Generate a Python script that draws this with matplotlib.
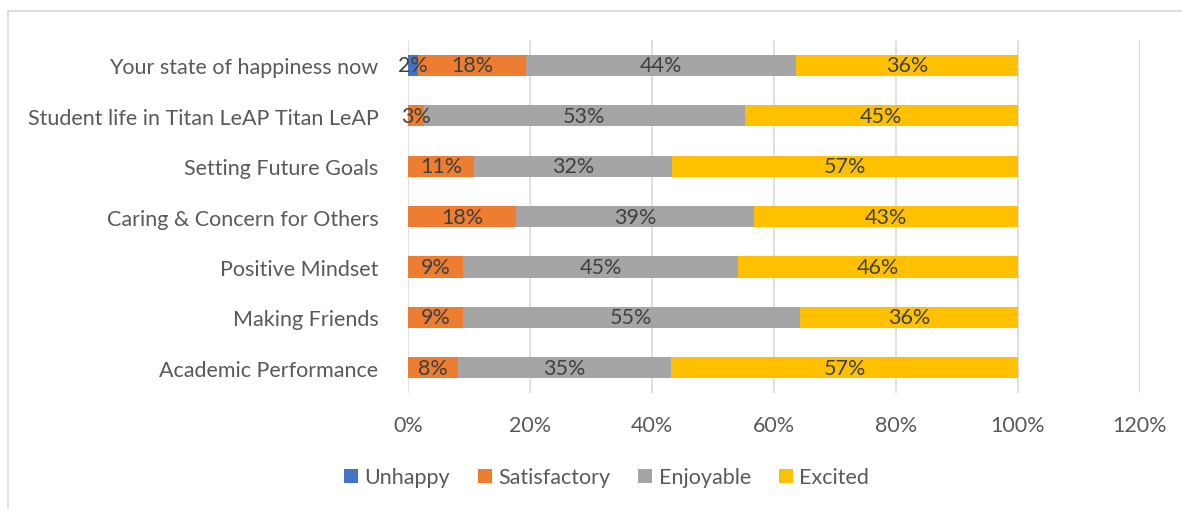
import matplotlib
matplotlib.use("Agg")
import matplotlib.pyplot as plt
from matplotlib.patches import Rectangle

plt.rcParams['font.family'] = ['Lato', 'DejaVu Sans']

categories = ["Academic Performance", "Making Friends", "Positive Mindset",
              "Caring & Concern for Others", "Setting Future Goals",
              "Student life in Titan LeAP Titan LeAP", "Your state of happiness now"]
unhappy = [0, 0, 0, 0, 0, 0, 1.6]
satisfactory = [8.2, 9.1, 9.1, 17.8, 10.9, 2.6, 17.8]
enjoyable = [35.0, 55.1, 45.0, 39.0, 32.4, 52.6, 44.2]
excited = [56.8, 35.8, 45.9, 43.2, 56.7, 44.8, 36.4]

series = [("Unhappy", unhappy, "#4472C4"),
          ("Satisfactory", satisfactory, "#ED7D31"),
          ("Enjoyable", enjoyable, "#A5A5A5"),
          ("Excited", excited, "#FFC000")]

text_col = "#595959"
fs = 15.5

fig = plt.figure(figsize=(11.82, 5.10), dpi=100)
ax = fig.add_axes([0.345, 0.2275, 0.6195, 0.692])

y = range(len(categories))
left = [0] * len(categories)
for name, vals, col in series:
    ax.barh(y, vals, left=left, height=0.42, color=col, label=name, zorder=3)
    for i, v in enumerate(vals):
        if v > 0:
            ax.text(left[i] + v / 2, i, f"{round(v)}%", ha="center", va="center",
                    fontsize=fs, color="#404040", zorder=4)
    left = [l + v for l, v in zip(left, vals)]

ax.set_xlim(0, 120)
ax.set_ylim(-0.5, len(categories) - 0.5)
ax.set_xticks(range(0, 121, 20))
ax.set_xticklabels([f"{t}%" for t in range(0, 121, 20)])
ax.set_yticks(list(y))
ax.set_yticklabels(categories)
ax.tick_params(length=0, labelsize=fs, colors=text_col)
ax.tick_params(axis="x", pad=16)
ax.tick_params(axis="y", pad=21)
ax.grid(axis="x", color="#D9D9D9", linewidth=1.2, zorder=0)
for s in ax.spines.values():
    s.set_visible(False)

fig.legend(loc="center", bbox_to_anchor=(0.513, 0.062),
           ncol=4, frameon=False, fontsize=fs,
           handlelength=0.65, handleheight=0.65, handletextpad=0.3, columnspacing=1.3,
           labelcolor=text_col)

# chart border (partly cut off in the reference)
fig.patches.append(Rectangle((8 / 1182, -0.1), 1.2, 1 - 12 / 510 + 0.1,
                             transform=fig.transFigure, fill=False,
                             edgecolor="#D9D9D9", linewidth=1.2))

fig.savefig("out.png", dpi=100)
